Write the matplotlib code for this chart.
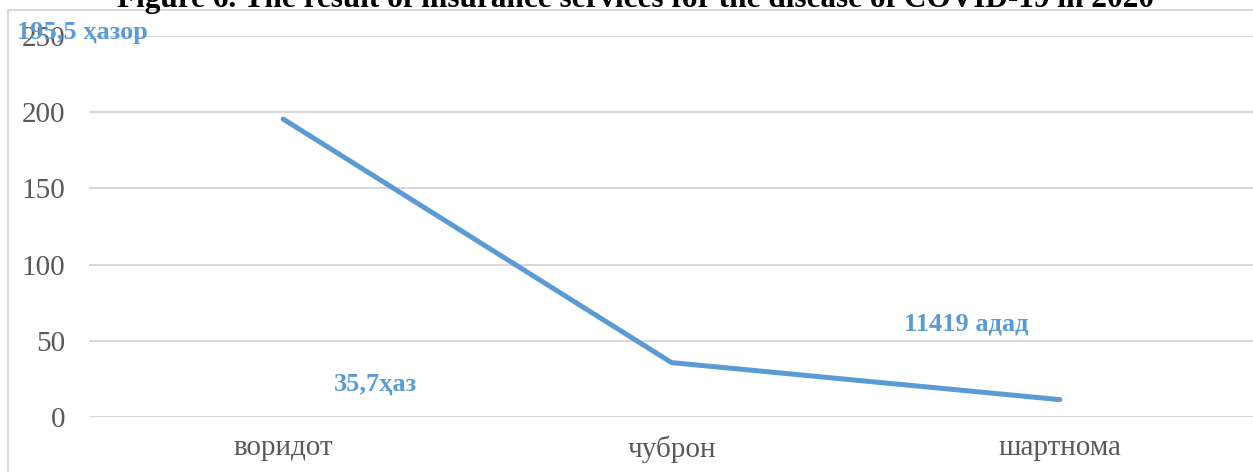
import matplotlib
matplotlib.use("Agg")
import matplotlib.pyplot as plt
from matplotlib.patches import Rectangle

categories = ["воридот", "чуброн", "шартнома"]
values = [195.5, 35.7, 11.4]
labels = ["195,5 ҳазор", "35,7ҳаз", "11419 адад"]
yticks = [0, 50, 100, 150, 200, 250]
title = "Figure 6. The result of insurance services for the disease of COVID-19 in 2020"

W, H = 1253, 472
fig = plt.figure(figsize=(W / 100, H / 100), dpi=100)
plt.rcParams['font.family'] = ['Liberation Serif', 'DejaVu Serif']

# chart border
fig.patches.append(Rectangle((8 / W, -0.1), 1.2, 1 - 10 / H + 0.1,
                             transform=fig.transFigure, fill=False,
                             edgecolor='#D9D9D9', linewidth=1.5))

ax = fig.add_axes([89 / W, 1 - 417 / H, (1254 - 89) / W, (417 - 36) / H])
x = list(range(len(categories)))
ax.plot(x, values, color='#5B9BD5', linewidth=3.6, solid_capstyle='round', zorder=3)
ax.set_xlim(-0.5, len(categories) - 0.5)
ax.set_ylim(0, 250)
ax.set_yticks(yticks)
ax.set_xticks(x)
ax.set_xticklabels(categories)
ax.grid(axis='y', color='#D9D9D9', linewidth=1.5)
ax.set_axisbelow(True)
for s in ax.spines.values():
    s.set_visible(False)
ax.tick_params(axis='both', length=0, labelsize=21, colors='#595959')
ax.tick_params(axis='y', pad=17)
ax.tick_params(axis='x', pad=13)

label_pos = [(-0.518, 252), (0.237, 21.5), (1.76, 60.7)]
for (lx, ly), t in zip(label_pos, labels):
    ax.text(lx, ly, t, color='#5B9BD5', fontsize=19, fontweight='bold',
            ha='center', va='center', clip_on=False, zorder=4)

fig.text(636 / W, 1 - 7 / H, title, ha='center', va='baseline', fontsize=22.5,
         fontweight='bold', color='black')

fig.savefig("out.png", dpi=100)
